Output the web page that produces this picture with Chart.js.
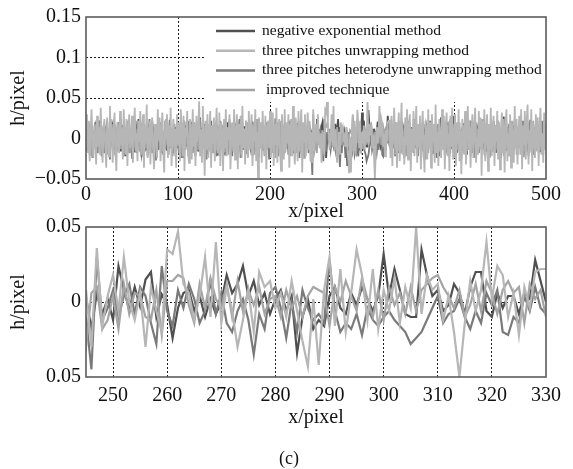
<!DOCTYPE html>
<html>
<head>
<meta charset="utf-8">
<title>h/pixel</title>
<script src="https://cdn.jsdelivr.net/npm/chart.js@4/dist/chart.umd.min.js"></script>
<style>
  body { margin: 0; background: #fff; width: 573px; height: 469px; position: relative; overflow: hidden; }
  .panel { position: absolute; left: 0; width: 573px; }
  #fullPanel { top: 0; height: 224px; }
  #zoomPanel { top: 210px; height: 222px; }
  #caption { position: absolute; left: 0; top: 447px; width: 578px; text-align: center;
             font: 18px 'Liberation Serif', 'Times New Roman', serif; line-height: 22px; color: #111; }
</style>
</head>
<body>
<div class="panel" id="fullPanel"><canvas id="fullChart"></canvas></div>
<div class="panel" id="zoomPanel"><canvas id="zoomChart"></canvas></div>
<div id="caption">(c)</div>
<script>
// height error per x pixel (0..500), in thousandths of a pixel
const negExp = [
  2, -8, 12, 5, -14, 6, 18, -4, -10, 8, 14, -6, 3, -16, 10, 22, 4, -12, -2, 9,
  -18, 6, 15, -3, 8, -11, -20, 2, 12, 17, -7, 4, -13, 10, -1, 20, 6, -15, -5, 11,
  14, -9, 3, -22, 7, 16, -4, 9, -12, 1, 19, 5, -8, -17, 6, 12, -3, 24, -10, 4,
  -6, 13, 8, -19, 2, 10, -14, 18, 3, -7, -12, 7, 21, -2, 11, -16, 5, -9, 15, 0,
  -11, 8, 17, -6, -20, 4, 13, 9, -15, 6, -3, 23, -8, 12, 2, -18, 10, -5, 14, -12,
  7, -1, 19, -10, 5, 11, -24, 3, 16, -7, 8, -13, 12, 6, -17, 20, -4, 9, -9, 15,
  -2, 10, -16, 5, 26, -8, 13, -11, 1, 18, -6, 7, -19, 11, 4, -14, 22, -3, 8, -10,
  16, -5, 2, -21, 12, 9, -7, 17, -12, 4, -2, 14, -18, 6, 20, -9, 3, 11, -15, 7,
  13, -4, -10, 19, 1, -16, 8, 24, -6, 10, -13, 5, 15, -20, 2, 12, -8, 18, -3, -11,
  6, 21, -14, 9, -5, 16, -1, -22, 11, 4, 17, -9, 7, -15, 13, 3, -7, 20, -12, 8,
  -2, 14, -18, 5, 10, -6, 25, -11, 3, 15, -16, 9, -4, 12, -20, 6, 18, -8, 1, 13,
  -13, 7, 22, -5, 10, -17, 4, 16, -9, -2, 19, -14, 8, 11, -6, 14, -21, 5, 17, -10,
  3, 12, -7, 15, -4,
  3, -18, 6, -8, 2, -12, 24, 8, -5, 10, -3, 15, 20, -10, 5, -2, -24, -4, 6, 8,
  -6, 4, -10, 2, -8, 0, 18, 6, 12, 24, 4, 14, -2, 6, -8, 2, 8, -6, 4, -34,
  -10, 2, -18, -12, -16, 4, 10, -4, -8, 6, -2, 10, 2, -6, 4, 32, 4, 22, 8, -8,
  -10, -10, 35, 18, 4, 8, -6, -2, 12, 6, -8, 10, 20, 20, -6, -10, 6, -4, 4, 4,
  -8, 6, 2, 28, 14, 0,
  -4, 16, 9, -12, 6, 20, -8, 3, 13, -18, 7, -2, 22, -10, 11, 4, -15, 17, -6, 9,
  -20, 5, 14, -3, 10, -13, 24, -7, 2, 15, -11, 8, 19, -16, 4, -5, 12, -9, 18, 1,
  -14, 10, -3, 21, -8, 6, -19, 13, 3, -10, 16, -6, 9, -22, 11, 26, -4, 7, -12, 14,
  2, -17, 20, -7, 10, -1, 15, -13, 5, 28, -9, 12, -18, 6, 17, -4, 8, -15, 13, -2,
  19, -11, 4, -20, 9, 14, -6, 22, -14, 3, 11, -8, 16, -3, -17, 10, 5, -12, 18, -5,
  7, 24, -10, 12, -16, 1, 15, -7, 9, -21, 13, 4, -9, 17, -13, 6, 20, -4, 10, -18,
  3, 14, -11, 27, -6, 8, -15, 11, 2, -19, 16, -8, 12, 5, -14, 21, -3, 9, -10, 15,
  -7, 18, -12, 4, 13, -20, 6, 10, -5, 16, -16, 2, 23, -9, 11, -4, 14, -13, 7, 19,
  -11, 5, 12, -17, 8, 3, -8, 17, -6, 10
];
const threePitch = [
  12, 30, -18, 22, -28, 8, 36, -6, -24, 16, 4, -32, 28, -10, 14, -20, 38, 2, -30, 10,
  24, -12, -36, 26, 6, -22, 40, -4, 18, -30, 8, 32, -14, -40, 20, 2, -18, 34, -8, 12,
  -26, 36, 4, -20, 24, -34, 10, 30, -12, -2, 28, -30, 14, 38, -16, 6, -28, 22, -4, 34,
  -20, 8, 30, -36, 16, -6, 42, -24, 2, 22, -32, 12, 26, -14, -38, 18, 6, -22, 36, -2,
  26, -28, 10, 32, -16, -42, 22, 0, 30, -24, 16, -10, 38, -34, 4, 24, -18, 12, -36, 30,
  -6, 20, -28, 36, 8, -22, 28, -40, 14, 2, 34, -18, -30, 24, 4, -26, 36, -10, 18, -34,
  28, -4, 12, 46, -22, 10, -30, 40, 2, -46, 22, -14, 30, -24, 6, 34, -36, 16, -6, 26,
  -28, 10, 38, -18, -8, 32, -34, 20, 4, -40, 24, -12, 36, -22, 14, -2, 30, -38, 8, 20,
  -16, 36, -26, 6, 30, -38, 18, -8, 28, -20, 40, -12, 12, -32, 22, 0, -24, 34, -14, 10,
  30, -34, 16, -4, 36, -28, 8, -48, 26, -10, 20, -30, 34, 2, -20, 28, -38, 14, 22, -12,
  34, -24, 6, 32, -34, 18, -8, 38, -30, 10, 24, -18, -40, 30, 0, -26, 36, -16, 20, -6,
  30, -36, 14, 24, -22, 40, -10, -32, 26, 4, -28, 34, -16, 12, 36, -42, 20, -4, 30, -22,
  8, 32, -14, 22, -28,
  8, -30, 36, -16, 4, 18, -6, 30, 0, -12, 6, -30, 10, -6, -20, 35, 32, 47, 12, 6,
  -12, 4, 30, -10, 40, -14, 10, -6, -30, -12, 8, -20, 20, 10, 14, -4, 6, -10, 14, -6,
  -26, -43, 2, -42, 8, 30, -16, 22, -20, 6, 35, 18, -12, 22, -18, 8, -6, 16, -14, 10,
  -4, 50, -8, 18, 8, 12, -12, 4, -20, -50, -14, 14, -6, 8, 40, 2, 24, 18, -10, 6,
  -22, 10, -4, 20, 22, 22,
  -24, 28, -34, 14, 38, -12, 20, -36, 8, 32, -28, 10, 44, -20, 2, -32, 26, -8, 36, -26,
  16, 30, -40, 12, -16, 34, -22, 6, 40, -30, 18, -10, 28, -38, 12, 34, -16, -42, 22, 4,
  -26, 36, -12, 20, -36, 30, -4, 18, -30, 42, -18, 8, -34, 24, 2, -24, 36, -14, 28, -38,
  16, 32, -22, 6, -40, 28, -10, 38, -26, 12, 30, -34, 20, -6, 36, -28, 10, -44, 24, 4,
  -20, 34, -32, 16, 40, -14, 22, -36, 8, 30, -24, 14, 38, -30, 2, -20, 34, -10, 26, -46,
  22, -6, 36, -28, 12, 30, -40, 18, -14, 38, -22, 8, 28, -34, 16, -4, 34, -26, 20, -38,
  10, 32, -18, 24, -42, 14, 36, -28, 6, -22, 30, -36, 18, 2, -30, 40, -12, 24, -32, 8,
  28, -20, 36, -38, 16, -8, 34, -26, 22, 42, -32, 10, -16, 36, -40, 20, 4, -24, 30, -12,
  26, -34, 14, 38, -20, 6, -30, 32, -14, 18
];
const heterodyne = [
  -14, 8, -6, 18, -20, 4, 12, -24, 6, -2, 20, -12, 0, -18, 10, 16, -8, -22, 4, 14,
  -4, -18, 10, 22, -14, 2, -26, 8, 16, -8, -2, 18, -20, 6, 12, -16, 0, 24, -10, -4,
  16, -22, 6, 10, -14, 20, -6, -18, 10, 2, -24, 14, 4, -12, 22, -18, 8, -2, 16, -14,
  -20, 10, 0, 18, -16, -8, 14, -22, 4, 24, -10, 2, -18, 12, 6, -26, 16, -4, 10, -14,
  4, 20, -18, 8, -2, -12, 22, -8, 14, -20, 0, 16, -12, 6, -22, 10, 18, -6, -16, 12,
  2, -18, 16, 6, -24, 10, -4, 20, -14, 4, -10, 22, -20, 8, 14, -6, -18, 12, 0, -22,
  16, -8, 10, -16, 24, -4, -20, 14, 6, -12, 18, -26, 6, 2, -14, 20, -10, 12, -18, 4,
  16, -6, -22, 12, 8, -18, 22, -2, -12, 16, -20, 10, 4, -16, 14, -8, 24, -12, 0, -22,
  10, 18, -10, 2, -18, 16, -4, 12, -24, 8, 20, -14, 6, -8, 22, -18, 0, 14, -12, -2,
  18, -22, 10, 6, -16, 12, -6, 24, -18, 2, -10, 16, -14, 8, 4, -20, 16, -6, 10, -26,
  14, -2, 20, -12, 6, -18, 10, 16, -8, -22, 12, 0, -16, 22, -6, 8, -18, 18, -12, 4,
  -20, 16, 6, -10, 24, -14, 2, 12, -18, 10, -4, 20, -24, 6, 14, -12, 8, -6, 16, -16,
  10, 0, -18, 14, -8,
  -10, -45, 30, -12, -4, 8, -10, 4, 12, -8, 10, 4, -14, -28, 24, -6, -16, 8, -4, 12,
  2, -14, -6, 14, -8, 6, -14, -20, -6, 2, -12, -35, -8, -18, 6, 10, -4, -24, 0, -20,
  8, -4, -12, -8, -14, 28, -6, -20, -14, -18, -8, -22, -4, -12, -16, -10, -6, -12, -16, -20,
  -28, -24, -20, -12, -4, 4, -14, -8, -6, 2, -10, -18, -6, -14, 6, -2, 8, -20, -22, -10,
  -14, 4, -6, 10, -4, -8,
  8, -16, 18, -6, 10, -22, 2, 16, -12, 6, 20, -18, 0, -10, 16, -24, 12, 4, -14, 22,
  -6, 10, -20, 14, 6, -18, 24, -12, 2, 18, -22, 8, -4, 12, -16, 20, -8, 0, -26, 16,
  10, -14, 6, 22, -18, 4, -10, 16, -6, 12, -24, 8, 18, -12, 2, -18, 14, -2, 20, -20,
  6, 16, -10, 10, -22, 24, -6, 0, 12, -18, 16, -8, 6, -16, 20, -4, 10, -26, 14, 2,
  -12, 18, -20, 8, 4, -14, 22, -10, 16, -18, 6, 10, -24, 16, 0, 12, -18, 6, -8, 20,
  -14, 2, 16, -22, 10, 18, -12, 4, -20, 14, 0, -16, 22, -6, 8, -18, 12, 16, -12, 4,
  -24, 10, 6, -10, 20, -16, 2, 14, -4, 18, -22, 10, 0, 16, -14, 24, -8, 4, -20, 12,
  16, -10, 6, -18, 22, -4, 8, -16, 12, 0, -22, 18, -10, 6, 14, -20, 2, -12, 20, -6,
  10, -18, 16, 4, -14, 22, -12, 8, -6, 12
];
const improved = [
  -10, 14, -4, 20, -16, 6, -22, 10, 2, -12, 18, -6, 0, 22, -18, 8, -4, 16, -14, 4,
  18, -10, 4, -20, 12, 0, -16, 24, -8, 6, -2, 16, -22, 10, 6, -14, 20, -12, 2, -6,
  14, -18, 10, 0, -12, 22, -6, 16, -18, 4, 8, -20, 18, -4, 12, -10, 2, 20, -16, 6,
  0, 16, -22, 12, 6, -12, 18, -8, 0, 14, -18, 10, 22, -14, 4, -6, 16, -24, 8, 2,
  12, -10, 20, -16, 6, 2, -14, 24, -6, 10, -20, 16, -2, 12, -12, 6, 18, -22, 0, 14,
  -8, 16, -18, 6, 12, -16, 4, 22, -12, -2, 16, -22, 8, 0, 18, -12, 6, -6, 20, -16,
  10, 2, -14, 22, -10, 12, -20, 6, 16, -6, -24, 14, 0, -12, 18, -16, 8, 4, -18, 12,
  -4, 20, -14, 10, 0, -22, 16, -8, 12, 6, -16, 22, -10, 2, 14, -20, 6, 0, 18, -12,
  8, 16, -18, 4, -6, 22, -16, 12, 0, -24, 16, -6, 12, -12, 6, 20, -22, 2, 10, -14,
  18, -8, 6, -20, 14, 0, 24, -16, 8, 4, -12, 20, -6, 12, -22, 16, 0, -14, 18, -10,
  6, 2, -18, 16, -6, 12, -24, 10, 20, -12, 0, -16, 22, -4, 14, -20, 8, 4, -12, 18,
  -6, 12, -22, 16, 6, -14, 20, -10, 2, 8, -18, 22, -2, 12, -16, 6, 16, -24, 10, -4,
  14, -12, 6, 18, -16,
  -30, 6, 10, -18, -12, 4, -18, 12, -8, 6, 4, -10, -12, 8, -22, 14, 14, 18, 16, -2,
  -14, 12, -4, 16, 2, -4, 12, -10, 14, -6, 8, -2, 10, -8, 2, 4, -10, 8, -4, 4,
  -10, 4, 10, 8, 6, -16, 10, 0, 14, 4, -6, 16, 2, -10, 8, -12, 10, -2, 6, -8,
  10, -6, 8, 12, 16, 18, 10, 4, -4, 8, -10, -2, 12, -6, 14, 6, -8, 8, 14, 6,
  10, -14, 12, 2, 8, -10,
  4, -12, 16, -6, 10, -20, 14, 0, -16, 22, -6, 8, -18, 12, 6, -10, 20, -22, 6, 2,
  -14, 18, -4, 12, -16, 24, -8, 6, 14, -20, 10, 0, 16, -12, 6, 20, -24, 4, -10, 16,
  0, -18, 12, 8, -14, 22, -6, 10, -22, 16, -2, 6, 18, -16, 10, -8, 20, -12, 2, 14,
  -20, 8, 16, -6, 22, -18, 4, 12, -10, 18, -24, 6, 10, -14, 0, 20, -12, 8, -4, 16,
  -18, 10, 2, -16, 22, -8, 14, -22, 6, 16, -12, 4, -6, 20, -18, 12, 0, -14, 24, -10,
  8, 16, -20, 6, -2, 18, -12, 10, -24, 14, 4, -8, 20, -18, 12, 0, -14, 22, -6, 12,
  -16, 6, 18, -22, 10, -4, 20, -12, 2, 14, -18, 8, 22, -14, 6, -10, 16, -20, 12, 0,
  -12, 18, -6, 8, -22, 16, 4, -16, 12, -6, 20, -18, 10, 0, -12, 22, -8, 14, -16, 6,
  16, -2, -14, 18, -10, 6, -20, 12, 0, 8
];

const seriesNames = [
  'negative exponential method',
  'three pitches unwrapping method',
  'three pitches heterodyne unwrapping method',
  ' improved technique'
];

const fullXTicks = [0, 100, 200, 300, 400, 500];
const fullYTicks = [-0.05, 0, 0.05, 0.1, 0.15];
const fullYLabels = ['\u22120.05', '0', '0.05', '0.1', '0.15'];
const zoomXTicks = [250, 260, 270, 280, 290, 300, 310, 320, 330];
const zoomYTicks = [-0.05, 0, 0.05];
const zoomYLabels = ['0.05', '0', '0.05'];

[negExp, threePitch, heterodyne, improved].forEach((s, i) => {
  if (s.length !== 501) throw new Error(seriesNames[i] + ' has ' + s.length + ' samples');
});

const lineColors = ['#4f4f4f', '#b6b6b6', '#7a7a7a', '#a4a4a4'];
// lighter traces are painted over the darker ones
const drawOrder = [3, 0, 2, 1];
const FONT = "'Liberation Serif', 'Times New Roman', serif";
Chart.defaults.font.family = FONT;
Chart.defaults.color = '#111';

function makeDatasets(width) {
  return [negExp, threePitch, heterodyne, improved].map((s, i) => ({
    label: seriesNames[i],
    data: s.map((v, x) => ({ x: x, y: v / 1000 })),
    borderColor: lineColors[i],
    borderWidth: width,
    pointRadius: 0,
    tension: 0,
    order: drawOrder[i]
  }));
}

// dotted grid only on the inner ticks, the frame covers the edges
function gridAt(values) {
  return {
    drawTicks: false,
    lineWidth: 1,
    color: c => (c.tick && values.some(v => Math.abs(v - c.tick.value) < 1e-9)) ? '#1a1a1a' : 'rgba(0,0,0,0)'
  };
}

function makeScales(o) {
  return {
    x: {
      type: 'linear', min: o.xMin, max: o.xMax,
      afterFit: s => { s.height = o.xHeight; },
      afterBuildTicks: s => { s.ticks = o.xTicks.map(v => ({ value: v })); },
      grid: gridAt(o.xGrid),
      border: { display: false, dash: [2, 2] },
      ticks: { padding: o.xPad, autoSkip: false, maxRotation: 0, font: { size: 20 } },
      title: { display: true, text: 'x/pixel', font: { size: 20 }, padding: { top: 0, bottom: o.titlePad } }
    },
    y: {
      type: 'linear', min: o.yTicks[0], max: o.yTicks[o.yTicks.length - 1],
      afterFit: s => { s.width = 86; },
      afterBuildTicks: s => { s.ticks = o.yTicks.map(v => ({ value: v })); },
      grid: gridAt(o.yGrid),
      border: { display: false, dash: [2, 2] },
      ticks: { padding: 5, autoSkip: false, font: { size: 20 }, callback: (v, i) => o.yLabels[i] },
      title: { display: true, text: 'h/pixel', font: { size: 20 }, padding: { top: 7, bottom: 0 } }
    }
  };
}

const frame = {
  id: 'frame',
  afterDraw(chart) {
    const { ctx, chartArea: a } = chart;
    ctx.save();
    ctx.strokeStyle = '#5c5c5c';
    ctx.lineWidth = 1.6;
    ctx.strokeRect(a.left, a.top, a.right - a.left, a.bottom - a.top);
    ctx.restore();
  }
};

// legend box in the upper right of the full-range plot
const insetLegend = {
  id: 'insetLegend',
  afterDatasetsDraw(chart) {
    const { ctx, chartArea: a } = chart;
    const left = a.left + 120;
    const bottom = a.top + 85;
    ctx.save();
    ctx.fillStyle = '#fff';
    ctx.fillRect(left, a.top, a.right - left, bottom - a.top);
    ctx.font = '15.5px ' + FONT;
    ctx.textBaseline = 'middle';
    seriesNames.forEach((name, i) => {
      const y = a.top + 14 + i * 19.7;
      ctx.strokeStyle = lineColors[i];
      ctx.lineWidth = 2.5;
      ctx.beginPath();
      ctx.moveTo(left + 10, y);
      ctx.lineTo(left + 49, y);
      ctx.stroke();
      ctx.fillStyle = '#111';
      ctx.fillText(name, left + 56, y);
    });
    ctx.restore();
  }
};

const common = {
  responsive: true,
  maintainAspectRatio: false,
  animation: false,
  events: [],
  plugins: { legend: { display: false }, tooltip: { enabled: false } }
};

new Chart(document.getElementById('fullChart'), {
  type: 'line',
  data: { datasets: makeDatasets(1.8) },
  options: Object.assign({}, common, {
    layout: { padding: { left: 0, right: 27, top: 16, bottom: 0 } },
    scales: makeScales({
      xMin: 0, xMax: 500, xTicks: fullXTicks, xGrid: [100, 200, 300, 400], xHeight: 45, xPad: 4, titlePad: 0,
      yTicks: fullYTicks, yLabels: fullYLabels, yGrid: [0, 0.05, 0.1]
    })
  }),
  plugins: [insetLegend, frame]
});

new Chart(document.getElementById('zoomChart'), {
  type: 'line',
  data: { datasets: makeDatasets(2.2) },
  options: Object.assign({}, common, {
    layout: { padding: { left: 0, right: 27, top: 16, bottom: 0 } },
    scales: makeScales({
      xMin: 245, xMax: 330, xTicks: zoomXTicks, xGrid: [250, 260, 270, 280, 290, 300, 310, 320], xHeight: 55, xPad: 7, titlePad: 2,
      yTicks: zoomYTicks, yLabels: zoomYLabels, yGrid: [0]
    })
  }),
  plugins: [frame]
});
</script>
</body>
</html>
